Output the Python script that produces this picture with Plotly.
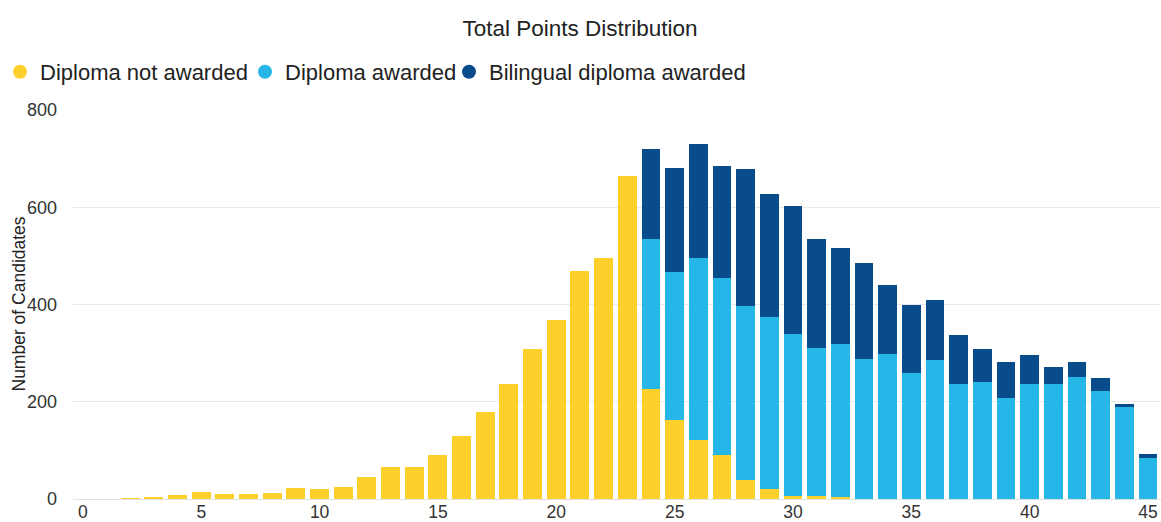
import plotly.graph_objects as go

points = list(range(0, 46))

not_awarded = [0, 0, 1, 3, 9, 14, 11, 11, 13, 22, 20, 24, 46, 66, 66, 91, 130, 179, 236, 308, 368, 469, 496, 664,
               226, 162, 121, 90, 39, 20, 6, 6, 4, 1, 1, 0, 0, 0, 0, 0, 0, 0, 0, 0, 0, 0]
awarded = [0] * 24 + [308, 304, 375, 365, 358, 354, 333, 304, 314, 286, 297, 260, 286, 236, 241, 208, 236, 236,
                      250, 223, 189, 84]
bilingual = [0] * 24 + [185, 214, 235, 230, 281, 253, 263, 224, 198, 198, 142, 139, 124, 102, 68, 73, 60, 36,
                        32, 25, 6, 8]

series_names = ["Diploma not awarded", "Diploma awarded", "Bilingual diploma awarded"]
series_colors = ["#FDD02C", "#27B6E8", "#094C8C"]
x_ticks = [0, 5, 10, 15, 20, 25, 30, 35, 40, 45]
y_ticks = [0, 200, 400, 600, 800]

W, H = 1161, 522

fig = go.Figure()
for name, vals, color in zip(series_names, [not_awarded, awarded, bilingual], series_colors):
    fig.add_trace(go.Bar(x=points, y=vals, name=name, marker_color=color, marker_line_width=0,
                         showlegend=False, legendgroup=name))

legend_ids = ["legend", "legend2", "legend3"]
legend_left = [0, 245, 449]
for name, color, lid in zip(series_names, series_colors, legend_ids):
    fig.add_trace(go.Scatter(x=[None], y=[None], mode="markers", name=name, legendgroup=name, legend=lid,
                             marker=dict(color=color, size=14, symbol="circle")))

def legend_style(px):
    return dict(orientation="h", xref="container", yref="container", x=px / W, y=1 - 72 / H,
                xanchor="left", yanchor="middle", font=dict(size=22, color="#222222"),
                bgcolor="rgba(0,0,0,0)", itemwidth=30)

fig.update_layout(
    width=W, height=H,
    barmode="stack", bargap=0.2,
    paper_bgcolor="white", plot_bgcolor="white",
    font=dict(family="Liberation Sans, Arial, sans-serif", color="#333333"),
    margin=dict(l=73, r=0, t=110, b=23, autoexpand=False),
    title=dict(text="Total Points Distribution", x=580 / W, xref="container", xanchor="center",
               y=1 - 28 / H, yref="container", yanchor="middle",
               font=dict(size=22.5, color="#222222")),
    legend=legend_style(legend_left[0]),
    legend2=legend_style(legend_left[1]),
    legend3=legend_style(legend_left[2]),
    xaxis=dict(range=[-0.42, 45.55], tickvals=x_ticks, showgrid=False, zeroline=False, automargin=False,
               tickfont=dict(size=17.5, color="#333333"), ticklabelstandoff=0, showline=False),
    yaxis=dict(range=[0, 800], tickvals=y_ticks, showgrid=True, gridcolor="#E8E8E8", gridwidth=1,
               zeroline=True, zerolinecolor="#E0E0E0", zerolinewidth=1, automargin=False,
               tickfont=dict(size=18, color="#333333"), ticklabelstandoff=15),
    annotations=[dict(text="Number of Candidates", textangle=-90, xref="paper", yref="paper",
                      x=(18 - 73) / (W - 73), y=0.5, xanchor="center", yanchor="middle",
                      showarrow=False, font=dict(size=17.5, color="#222222"))],
)

fig.write_html("out.html", post_script="document.body.style.margin = '0px';",
               config={"displayModeBar": False})
